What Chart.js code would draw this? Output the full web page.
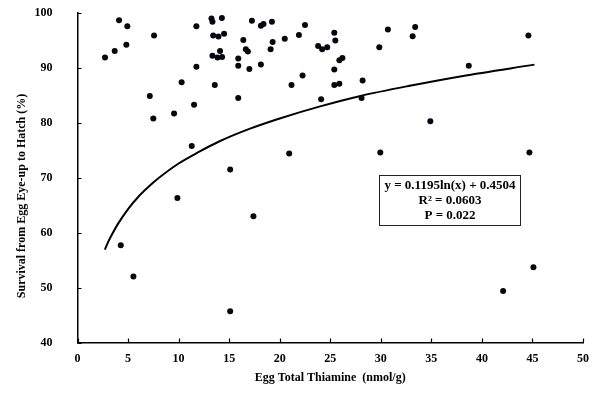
<!DOCTYPE html>
<html>
<head>
<meta charset="utf-8">
<script src="https://cdn.jsdelivr.net/npm/chart.js@4/dist/chart.umd.min.js"></script>
<style>
html,body{margin:0;padding:0;background:#fff;}
#wrap{width:600px;height:398px;position:relative;}
</style>
</head>
<body>
<div id="wrap"><canvas id="c" width="600" height="398"></canvas></div>
<script>
// Observed data: egg total thiamine (nmol/g) vs survival (%)
const thiamine = [2.72,3.68,4.11,4.83,4.93,7.57,4.28,5.53,7.15,7.5,9.55,9.88,10.3,11.3,11.53,11.76,11.76,13.25,13.35,14.28,13.42,13.94,14.5,13.35,14.1,13.85,14.3,13.58,15.1,15.1,15.9,15.9,15.9,16.4,16.65,16.85,17.0,17.25,17.4,18.14,18.4,18.14,19.23,19.3,19.1,20.5,20.94,21.17,21.9,22.26,22.5,23.8,24.2,24.7,24.1,25.4,25.5,25.9,26.2,25.4,25.4,25.9,28.2,28.1,29.85,29.95,30.7,33.4,33.15,34.9,38.7,42.1,44.6,44.7,45.1];
const survival = [91.9,93.1,98.7,94.2,97.6,95.9,57.7,52.0,84.9,80.8,81.7,66.3,87.4,75.8,83.3,97.6,90.2,99.0,98.4,99.1,95.9,95.7,96.2,92.2,93.1,91.9,92.0,86.9,71.5,45.7,91.7,90.4,84.5,95.1,93.4,93.0,89.8,98.6,63.0,97.7,98.0,90.6,98.4,94.7,93.4,95.3,74.4,86.9,96.0,88.6,97.8,94.0,93.4,93.75,84.3,96.4,95.0,91.4,91.8,89.7,86.9,87.1,87.7,84.5,93.75,74.6,97.0,97.45,95.75,80.3,90.4,49.4,95.9,74.6,53.7];
// Trend curve
const trendX = [2.7,3,3.5,4,5,6,7,8,10,12,14,17,20,24,28,33,38,45.2];
const trendY = [56.9,58.2,60.0,61.6,64.3,66.5,68.3,69.9,72.6,74.7,76.6,78.9,80.8,83.0,84.9,86.8,88.5,90.6];
const xTicks = [0,5,10,15,20,25,30,35,40,45,50];
const yTicks = [40,50,60,70,80,90,100];
const xTitle = 'Egg Total Thiamine  (nmol/g)';
const yTitle = 'Survival from Egg Eye-up to Hatch (%)';
const eqLines = ['y = 0.1195ln(x) + 0.4504', 'R² = 0.0603', 'P = 0.022'];

const FONT = '"Liberation Serif", "Times New Roman", serif';

const scatterData = thiamine.map((x, i) => ({x: x, y: survival[i]}));
const trendData = trendX.map((x, i) => ({x: x, y: trendY[i]}));

const decor = {
  id: 'decor',
  afterDraw(chart) {
    const ctx = chart.ctx;
    const xs = chart.scales.x, ys = chart.scales.y;
    const ca = chart.chartArea;
    ctx.save();
    // inward tick marks
    ctx.strokeStyle = '#000';
    ctx.lineWidth = 1.2;
    ctx.beginPath();
    yTicks.forEach(v => {
      const py = Math.round(ys.getPixelForValue(v)) + 0.5;
      ctx.moveTo(ca.left, py);
      ctx.lineTo(ca.left + 4, py);
    });
    xTicks.forEach(v => {
      const px = Math.round(xs.getPixelForValue(v)) + 0.5;
      ctx.moveTo(px, ca.bottom);
      ctx.lineTo(px, ca.bottom - 4);
    });
    ctx.stroke();
    // axis titles
    ctx.fillStyle = '#000';
    ctx.font = 'bold 12px ' + FONT;
    ctx.textAlign = 'center';
    ctx.textBaseline = 'middle';
    ctx.fillText(xTitle, (ca.left + ca.right) / 2, 378);
    ctx.save();
    ctx.translate(22, 196);
    ctx.rotate(-Math.PI / 2);
    ctx.fillText(yTitle, 0, 0);
    ctx.restore();
    // equation box
    const bx = 379.5, by = 175.5, bw = 141, bh = 50;
    ctx.fillStyle = '#fff';
    ctx.fillRect(bx, by, bw, bh);
    ctx.strokeStyle = '#222';
    ctx.lineWidth = 1;
    ctx.strokeRect(bx, by, bw, bh);
    ctx.fillStyle = '#000';
    ctx.font = 'bold 13px ' + FONT;
    const cx = bx + bw / 2;
    ctx.fillText(eqLines[0], cx, 185.5);
    ctx.fillText(eqLines[1], cx, 200.5);
    ctx.fillText(eqLines[2], cx, 216);
    ctx.restore();
  }
};

new Chart(document.getElementById('c'), {
  type: 'scatter',
  data: {
    datasets: [
      {
        label: 'Survival',
        data: scatterData,
        backgroundColor: '#05060f',
        borderColor: '#05060f',
        pointRadius: 3,
        pointBorderWidth: 0,
        order: 1
      },
      {
        type: 'line',
        label: 'Trend',
        data: trendData,
        borderColor: '#000',
        borderWidth: 2,
        pointRadius: 0,
        fill: false,
        cubicInterpolationMode: 'monotone',
        order: 2
      }
    ]
  },
  options: {
    responsive: false,
    animation: false,
    devicePixelRatio: 1,
    layout: {padding: {left: 0, top: 13, right: 17, bottom: 0}},
    plugins: {legend: {display: false}, tooltip: {enabled: false}, title: {display: false}},
    scales: {
      x: {
        type: 'linear',
        min: 0, max: 50,
        afterBuildTicks: (s) => { s.ticks = xTicks.map(v => ({value: v})); },
        afterFit: (s) => { s.height = 55.5; },
        grid: {display: false, drawTicks: false},
        border: {display: true, color: '#000', width: 1.5},
        ticks: {color: '#000', padding: 9, font: {family: FONT, size: 12, weight: 'bold'}, maxRotation: 0}
      },
      y: {
        type: 'linear',
        min: 40, max: 100,
        afterBuildTicks: (s) => { s.ticks = yTicks.map(v => ({value: v})); },
        afterFit: (s) => { s.width = 77.5; s.paddingTop = 0; s.paddingBottom = 0; },
        grid: {display: false, drawTicks: false},
        border: {display: true, color: '#000', width: 1.5},
        ticks: {color: '#000', padding: 25, font: {family: FONT, size: 12, weight: 'bold'}}
      }
    }
  },
  plugins: [decor]
});
</script>
</body>
</html>
